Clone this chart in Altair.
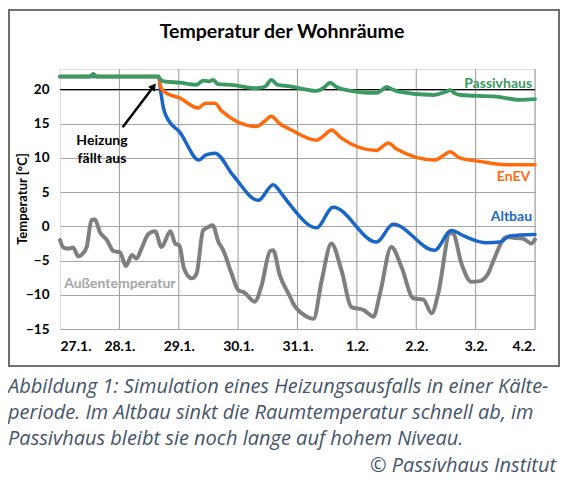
import altair as alt
import pandas as pd

days = ["27.1.", "28.1.", "29.1.", "30.1.", "31.1.", "1.2.", "2.2.", "3.2.", "4.2."]
y_ticks = [-15, -10, -5, 0, 5, 10, 15, 20]

pass_d = [0, 0.5, 0.56, 0.62, 1.66, 1.69, 1.75, 2.02, 2.3, 2.41, 2.5, 2.58, 2.66, 2.92, 3.3, 3.45, 3.56, 3.66, 3.87, 4.32, 4.45, 4.55, 4.65, 4.75, 5.33, 5.45, 5.5, 5.6, 5.7, 6.29, 6.5, 6.57, 6.66, 6.75, 7.35, 7.74, 8.0]
pass_t = [21.9, 21.9, 22.3, 21.9, 21.9, 21.5, 21.2, 21.0, 20.7, 21.3, 21.2, 21.4, 20.8, 20.65, 20.2, 20.4, 21.4, 20.7, 20.46, 19.8, 20.3, 21.0, 20.4, 20.07, 19.5, 20.1, 20.4, 20.0, 19.7, 19.2, 19.7, 19.9, 19.4, 19.2, 18.95, 18.5, 18.6]

enev_d = [0, 0.5, 0.56, 0.62, 1.66, 1.70, 1.77, 2.02, 2.33, 2.45, 2.61, 2.72, 3.31, 3.45, 3.56, 3.70, 3.87, 4.32, 4.45, 4.57, 4.74, 5.33, 5.45, 5.53, 5.67, 6.31, 6.45, 6.57, 6.73, 7.07, 7.52, 8.0]
enev_t = [21.9, 21.9, 22.1, 21.9, 21.9, 20.3, 19.6, 18.75, 17.3, 18.0, 18.0, 16.9, 14.6, 15.4, 16.1, 15.0, 14.2, 12.6, 13.3, 14.1, 12.9, 11.1, 11.8, 12.2, 11.3, 9.7, 10.3, 10.9, 10.0, 9.5, 9.0, 9.0]

alt_d = [0, 1.66, 1.70, 1.74, 1.80, 2.02, 2.34, 2.45, 2.61, 2.92, 3.34, 3.59, 3.73, 3.87, 4.32, 4.6, 5.33, 5.61, 6.31, 6.59, 6.8, 7.18, 7.41, 7.58, 8.0]
alt_t = [21.9, 21.9, 19.5, 17.4, 15.9, 13.75, 9.7, 10.4, 10.7, 7.4, 3.8, 6.1, 4.8, 3.2, -0.2, 2.8, -2.3, 0.3, -3.5, -0.6, -1.4, -2.4, -2.3, -1.4, -1.2]

out_d = [0, 0.06, 0.14, 0.22, 0.31, 0.37, 0.45, 0.53, 0.59, 0.67, 0.79, 0.9, 1.01, 1.11, 1.21, 1.29, 1.37, 1.49, 1.6, 1.71, 1.86, 1.94, 2.01, 2.09, 2.22, 2.3, 2.41, 2.5, 2.57, 2.67, 2.75, 2.89, 3.0, 3.11, 3.28, 3.39, 3.54, 3.59, 3.7, 3.87, 3.93, 4.12, 4.27, 4.41, 4.57, 4.74, 4.91, 5.11, 5.28, 5.39, 5.58, 5.75, 5.95, 6.12, 6.26, 6.37, 6.57, 6.62, 6.76, 6.93, 7.07, 7.21, 7.3, 7.52, 7.63, 7.8, 7.94, 8.0]
out_t = [-2.0, -3.1, -3.25, -3.1, -4.4, -4.1, -3.0, 0.9, 1.0, -0.8, -2.0, -3.6, -3.8, -5.8, -4.2, -4.7, -3.3, -1.1, -0.7, -3.0, -0.7, -2.5, -2.8, -6.2, -7.6, -6.9, -0.6, -0.1, 0.15, -2.3, -3.5, -6.9, -9.3, -9.7, -11.0, -8.8, -3.6, -3.5, -7.1, -10.2, -11.3, -13.0, -13.5, -7.8, -2.5, -6.4, -11.8, -12.2, -13.2, -9.8, -3.0, -5.9, -10.5, -10.7, -12.7, -9.8, -1.0, -1.07, -5.4, -8.1, -8.0, -6.9, -5.0, -1.55, -1.65, -1.8, -2.5, -1.9]

series_names = ["Außentemperatur", "Altbau", "EnEV", "Passivhaus"]
series_colors = ["#7f7f7f", "#1a66c8", "#ff6a0d", "#3a9a62"]

caption_lines = [
    "Abbildung 1: Simulation eines Heizungsausfalls in einer Kälte-",
    "periode. Im Altbau sinkt die Raumtemperatur schnell ab, im",
    "Passivhaus bleibt sie noch lange auf hohem Niveau.",
]
credit = "© Passivhaus Institut"

W, H = 475, 260
FONT = "Lato"
CAPFONT = "Open Sans"

xs = alt.Scale(domain=[0, 8], nice=False, zero=False)
ys = alt.Scale(domain=[-15, 23], nice=False, zero=False)

label_expr = "[" + ",".join("'" + d + "'" for d in days) + "][datum.value]"

X_AXIS = alt.Axis(values=list(range(9)), labelExpr=label_expr, labelOverlap=False, grid=False, ticks=False, domain=False, title=None, labelFont=FONT, labelFontWeight="bold", labelFontSize=14, labelColor="#000", labelPadding=10)
Y_AXIS = alt.Axis(values=y_ticks, labelOverlap=False, grid=True, gridColor="#a6a6a6", gridWidth=1, ticks=False, domain=False, title=None, labelFont=FONT, labelFontWeight="bold", labelFontSize=13.5, labelColor="#000", labelPadding=11)

def X(f="d:Q"):
    return alt.X(f, scale=xs, axis=X_AXIS)

def Y(f="T:Q"):
    return alt.Y(f, scale=ys, axis=Y_AXIS)

# frame
frame = alt.Chart(pd.DataFrame({"a": [0]})).mark_rect(fillOpacity=0, fill="white", stroke="#707070", strokeWidth=2).encode(
    x=alt.value(-51), x2=alt.value(499), y=alt.value(-59), y2=alt.value(297))

axes = alt.Chart(pd.DataFrame({"d": [0], "T": [20]})).mark_point(opacity=0).encode(x=X(), y=Y())

vgrid = alt.Chart(pd.DataFrame({"d": list(range(1, 9))})).mark_rule(color="#999999", strokeWidth=1).encode(
    x=X(), y=alt.value(0), y2=alt.value(H))

rule20 = alt.Chart(pd.DataFrame({"T": [20]})).mark_rule(color="#000", strokeWidth=1).encode(
    y=Y(), x=alt.value(0), x2=alt.value(W))

def series_line(d, t, i, width):
    return alt.Chart(pd.DataFrame({"d": d, "T": t, "s": series_names[i]})).mark_line(
        color=series_colors[i], strokeWidth=width, interpolate="monotone", strokeCap="round", strokeJoin="round"
    ).encode(x=X(), y=Y())

l_out = series_line(out_d, out_t, 0, 4)
l_alt = series_line(alt_d, alt_t, 1, 3.5)
l_enev = series_line(enev_d, enev_t, 2, 3.5)
l_pass = series_line(pass_d, pass_t, 3, 3.8)

lab = pd.DataFrame({
    "d": [7.95, 7.92, 7.95],
    "T": [20.8, 7.2, 1.3],
    "txt": ["Passivhaus", "EnEV", "Altbau"],
    "c": [series_colors[3], series_colors[2], series_colors[1]],
})
labels = alt.Chart(lab).mark_text(align="right", baseline="middle", font=FONT, fontWeight="bold", fontSize=14).encode(
    x=X(), y=Y(), text="txt:N", color=alt.Color("c:N", scale=None))

out_label = alt.Chart(pd.DataFrame({"d": [0.07], "T": [-8.45], "txt": [series_names[0]]})).mark_text(
    align="left", baseline="middle", font=FONT, fontWeight="bold", fontSize=14, color="#a6a6a6").encode(
    x=X(), y=Y(), text="txt:N")

ann = alt.Chart(pd.DataFrame({"d": [0.707, 0.707], "T": [12.5, 9.9], "txt": ["Heizung", "fällt aus"]})).mark_text(
    align="center", baseline="middle", font=FONT, fontWeight="bold", fontSize=14, color="#000").encode(
    x=X(), y=Y(), text="txt:N")

arrow = alt.Chart(pd.DataFrame({"d": [1.055], "T": [14.5], "d2": [1.577], "T2": [20.45]})).mark_rule(color="#000", strokeWidth=2.5).encode(
    x=X(), y=Y(), x2="d2:Q", y2="T2:Q")
head = alt.Chart(pd.DataFrame({"d": [1.577], "T": [20.45]})).mark_point(shape="triangle-up", filled=True, color="#000", size=70, angle=37, opacity=1).encode(
    x=X(), y=Y())

title = alt.Chart(pd.DataFrame({"txt": ["Temperatur der Wohnräume"]})).mark_text(
    align="center", baseline="middle", font=FONT, fontWeight="bold", fontSize=19.5, color="#000").encode(
    x=alt.value(222), y=alt.value(-37), text="txt:N")

ytitle = alt.Chart(pd.DataFrame({"txt": ["Temperatur [°C]"]})).mark_text(
    align="center", baseline="middle", font=FONT, fontWeight="bold", fontSize=13, color="#000", angle=270).encode(
    x=alt.value(-37), y=alt.value(130), text="txt:N")

cap = alt.Chart(pd.DataFrame({"txt": caption_lines, "y": [318, 344, 370]})).mark_text(
    align="left", baseline="middle", font=CAPFONT, fontStyle="italic", fontSize=20, color="#44546a").encode(
    x=alt.value(-52), y=alt.Y("y:Q", scale=None), text="txt:N")

cred = alt.Chart(pd.DataFrame({"txt": [credit]})).mark_text(
    align="right", baseline="middle", font=CAPFONT, fontStyle="italic", fontSize=20, color="#44546a").encode(
    x=alt.value(496), y=alt.value(397), text="txt:N")

chart = alt.layer(
    frame, axes, vgrid, rule20, l_out, l_alt, l_enev, l_pass, labels, out_label, ann, arrow, head, title, ytitle, cap, cred
).properties(
    width=W, height=H,
    autosize=alt.AutoSizeParams(type="none"),
    padding={"left": 52, "top": 61, "right": 25, "bottom": 150},
).configure_view(stroke=None).configure(background="white")

chart.save("out.html", embed_options={"renderer": "svg", "actions": False})
